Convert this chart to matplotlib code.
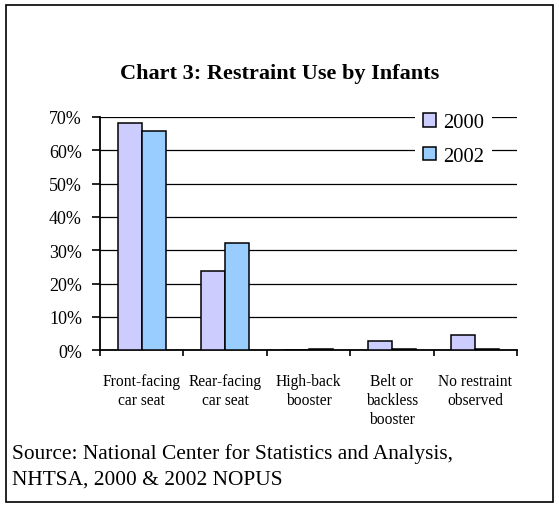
import matplotlib.pyplot as plt
from matplotlib.patches import Rectangle
import numpy as np

# data
categories = ['Front-facing\ncar seat', 'Rear-facing\ncar seat', 'High-back\nbooster',
              'Belt or\nbackless\nbooster', 'No restraint\nobserved']
use_2000 = [0.681, 0.237, 0.0, 0.028, 0.046]
use_2002 = [0.657, 0.321, 0.003, 0.003, 0.003]
series_labels = ['2000', '2002']
yticks = [0, 0.1, 0.2, 0.3, 0.4, 0.5, 0.6, 0.7]
ytick_labels = ['0%', '10%', '20%', '30%', '40%', '50%', '60%', '70%']

plt.rcParams['font.family'] = 'Liberation Serif'

fig = plt.figure(figsize=(5.59, 5.10), dpi=100)
ax = fig.add_axes([100 / 559, 1 - 351.3 / 510, 417 / 559, (351.3 - 118) / 510])

x = np.arange(len(categories)) + 0.5
w = 0.288
ax.bar(x - w / 2, use_2000, w, color='#CCCCFF', edgecolor='black', linewidth=1.1,
       label=series_labels[0], zorder=3)
ax.bar(x + w / 2, use_2002, w, color='#99CCFF', edgecolor='black', linewidth=1.1,
       label=series_labels[1], zorder=3)

ax.set_xlim(0, len(categories))
ax.set_ylim(0, 0.7)
ax.set_yticks(yticks)
ax.set_yticklabels(ytick_labels, fontsize=13)
ax.yaxis.grid(True, color='black', linewidth=0.9)
ax.set_axisbelow(True)

ax.set_xticks(np.arange(len(categories) + 1))
ax.set_xticklabels([])
ax.set_xticks(x, minor=True)
ax.set_xticklabels(categories, minor=True, fontsize=11.2, linespacing=1.25)
ax.tick_params(axis='x', which='minor', length=0, pad=16)
ax.tick_params(axis='x', which='major', direction='out', length=4, width=1.2)
ax.tick_params(axis='y', direction='out', length=6, width=1.2, pad=7)

for s in ['top', 'right']:
    ax.spines[s].set_visible(False)
ax.spines['left'].set_linewidth(1.3)
ax.spines['bottom'].set_linewidth(1.3)

leg = ax.legend(loc='upper left', bbox_to_anchor=(415 / 559, 1 - 106 / 510),
                bbox_transform=fig.transFigure, fontsize=14.8, frameon=True,
                handlelength=0.6, handleheight=0.6, handletextpad=0.35,
                labelspacing=0.7, borderpad=0.4, borderaxespad=0)
leg.get_frame().set_facecolor('white')
leg.get_frame().set_edgecolor('none')
leg.get_frame().set_alpha(1)
leg.get_frame().set_boxstyle('square', pad=0)
leg.set_zorder(5)

fig.text(0.5, 1 - 74 / 510, 'Chart 3: Restraint Use by Infants', ha='center', va='center',
         fontsize=16, fontweight='bold')
fig.text(12 / 559, 1 - 454 / 510, 'Source: National Center for Statistics and Analysis,',
         ha='left', va='center', fontsize=15.4)
fig.text(12 / 559, 1 - 480 / 510, 'NHTSA, 2000 & 2002 NOPUS', ha='left', va='center', fontsize=15.4)

fig.patches.append(Rectangle((6 / 559, 1 - 503 / 510), 547 / 559, 497 / 510,
                             transform=fig.transFigure, fill=False, edgecolor='black',
                             linewidth=1.2))

plt.savefig('out.png', dpi=100)
